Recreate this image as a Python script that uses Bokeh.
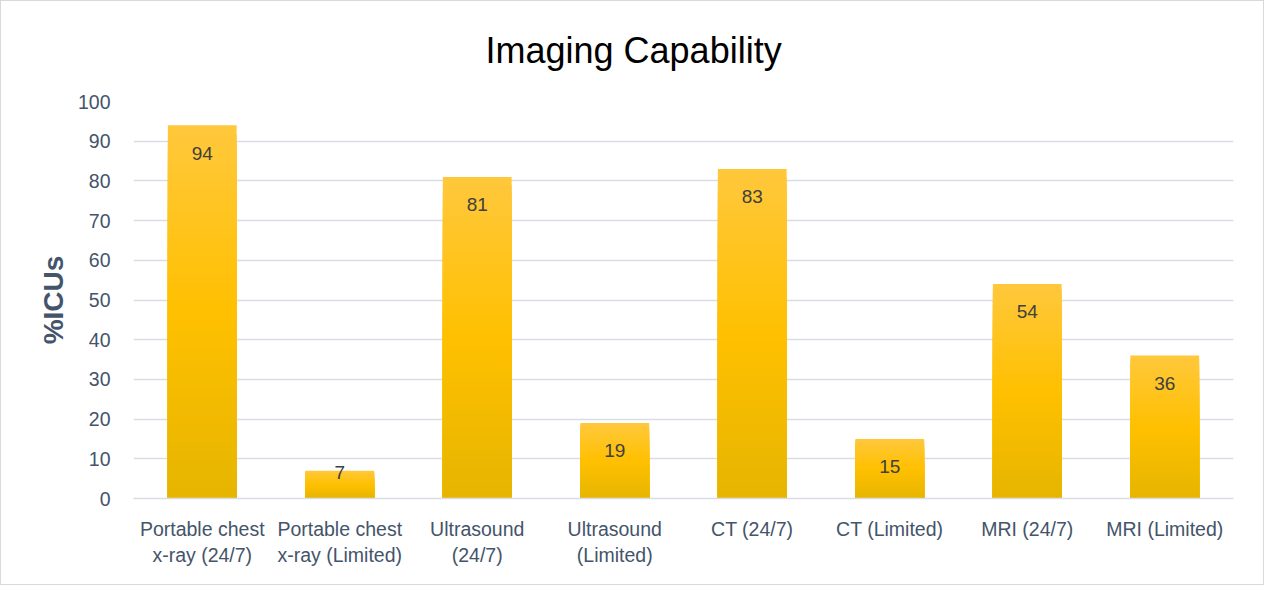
import numpy as np
from bokeh.models import ColumnDataSource, Range1d
from bokeh.plotting import figure
from bokeh.core.properties import value
from bokeh.embed import file_html
from bokeh.resources import INLINE

categories = [
    "Portable chest\nx-ray (24/7)",
    "Portable chest\nx-ray (Limited)",
    "Ultrasound\n(24/7)",
    "Ultrasound\n(Limited)",
    "CT (24/7)",
    "CT (Limited)",
    "MRI (24/7)",
    "MRI (Limited)",
]
pct_icus = [94, 7, 81, 19, 83, 15, 54, 36]

FONT = "Liberation Sans"
SLATE = "#44546a"


def gold(t):
    # t=0 bottom, t=1 top of the bar
    bottom, mid, top = (230, 181, 0), (255, 192, 0), (255, 200, 61)
    if t < 0.5:
        a, b, f = bottom, mid, t / 0.5
    else:
        a, b, f = mid, top, (t - 0.5) / 0.5
    r, g, bl = (int(round(a[i] + (b[i] - a[i]) * f)) for i in range(3))
    return "#%02x%02x%02x" % (r, g, bl)


# gradient bars: draw tallest slice first, shorter ones over it
N = 40
xs, tops, colors = [], [], []
for k in range(N - 1, -1, -1):
    for cat, v in zip(categories, pct_icus):
        xs.append(cat)
        tops.append(v * (k + 1) / N)
        colors.append(gold((k + 0.5) / N))
bars = ColumnDataSource(dict(x=xs, top=tops, color=colors))

vals = np.array(pct_icus, dtype=float)
labels = ColumnDataSource(dict(
    x=categories,
    y=np.where(vals > 10, vals - 7, vals - 0.5),
    text=[str(v) for v in pct_icus],
))

p = figure(
    x_range=categories,
    y_range=Range1d(0, 100),
    width=1264, height=585,
    output_backend="svg",
    toolbar_location=None,
    title="Imaging Capability",
    min_border_left=132, min_border_right=32,
    min_border_top=100, min_border_bottom=88,
)
p.styles = {"border": "1px solid #d9d9d9"}

p.vbar(x="x", top="top", bottom=0, width=0.5, fill_color="color",
       line_color=None, source=bars)
p.text(x="x", y="y", text="text", source=labels, text_align="center",
       text_baseline="middle", text_font=value(FONT), text_font_size="19px",
       text_color="#404040")

# centred on the whole chart, not on the plot frame
p.title.align = "left"
p.title.offset = 352
p.title.vertical_align = "top"
p.title.text_font = FONT
p.title.text_font_size = "36px"
p.title.text_font_style = "normal"
p.title.text_color = "#000000"
p.title.standoff = 57

p.outline_line_color = None
p.xgrid.grid_line_color = None
p.ygrid.grid_line_color = "#d9dde3"
p.ygrid.grid_line_width = 1.5

p.yaxis.ticker = list(range(0, 101, 10))
p.yaxis.axis_line_color = None
p.yaxis.major_tick_line_color = None
p.yaxis.minor_tick_line_color = None
p.yaxis.major_label_text_font = FONT
p.yaxis.major_label_text_font_size = "19.5px"
p.yaxis.major_label_text_color = SLATE
p.yaxis.major_label_standoff = 17
p.yaxis.axis_label = "%ICUs"
p.yaxis.axis_label_text_font = FONT
p.yaxis.axis_label_text_font_size = "28px"
p.yaxis.axis_label_text_font_style = "bold"
p.yaxis.axis_label_text_color = SLATE
p.yaxis.axis_label_standoff = 6

p.xaxis.axis_line_color = "#d9dde3"
p.xaxis.axis_line_width = 1.5
p.xaxis.major_tick_line_color = None
p.xaxis.minor_tick_line_color = None
p.xaxis.major_label_text_font = FONT
p.xaxis.major_label_text_font_size = "19.5px"
p.xaxis.major_label_text_color = SLATE
p.xaxis.major_label_standoff = 13

open("out.html", "w").write(file_html(p, INLINE))
